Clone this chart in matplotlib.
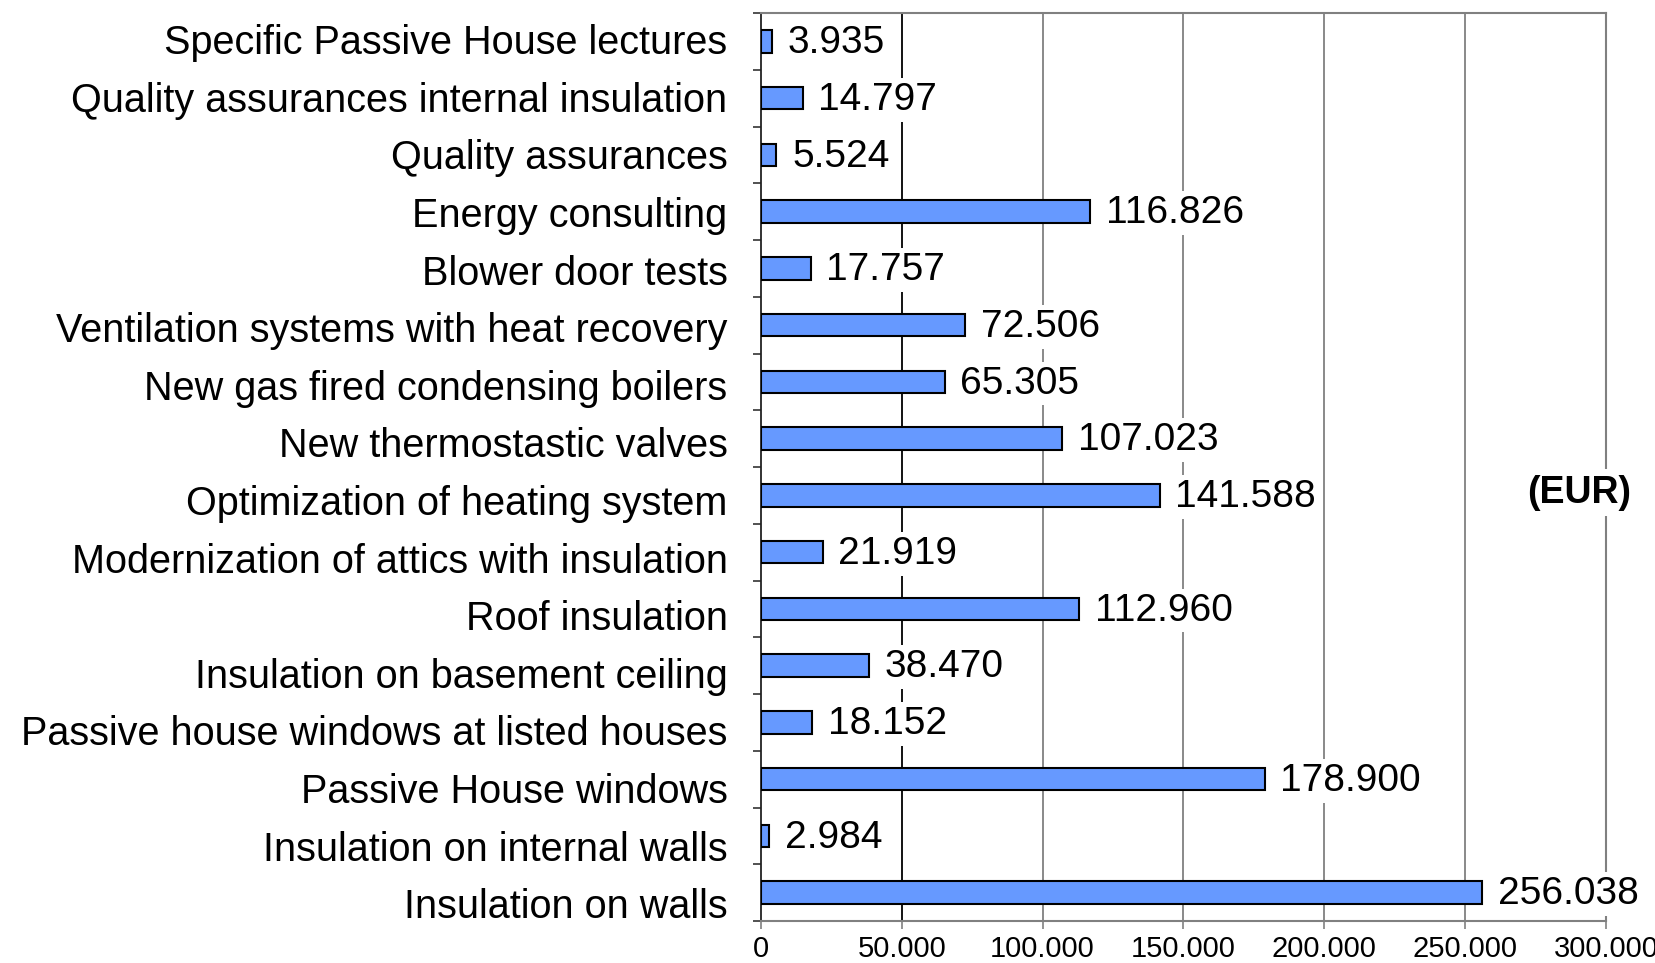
import matplotlib.pyplot as plt
import numpy as np

plt.rcParams['font.family'] = ['Liberation Sans', 'DejaVu Sans']

# data (top to bottom as in the chart)
categories = [
    'Specific Passive House lectures',
    'Quality assurances internal insulation',
    'Quality assurances',
    'Energy consulting',
    'Blower door tests',
    'Ventilation systems with heat recovery',
    'New gas fired condensing boilers',
    'New thermostastic valves',
    'Optimization of heating system',
    'Modernization of attics with insulation',
    'Roof insulation',
    'Insulation on basement ceiling',
    'Passive house windows at listed houses',
    'Passive House windows',
    'Insulation on internal walls',
    'Insulation on walls',
]
values = [3935, 14797, 5524, 116826, 17757, 72506, 65305, 107023,
          141588, 21919, 112960, 38470, 18152, 178900, 2984, 256038]
value_labels = ['3.935', '14.797', '5.524', '116.826', '17.757', '72.506',
                '65.305', '107.023', '141.588', '21.919', '112.960', '38.470',
                '18.152', '178.900', '2.984', '256.038']
xticks = [0, 50000, 100000, 150000, 200000, 250000, 300000]
xtick_labels = ['0', '50.000', '100.000', '150.000', '200.000', '250.000', '300.000']

fig = plt.figure(figsize=(16.56, 9.63), dpi=100)
ax = fig.add_axes([0.4595, 0.0436, 0.9698 - 0.4595, 0.9865 - 0.0436])

n = len(categories)
y = np.arange(n)[::-1]
ax.barh(y, values, height=0.4, color='#6699FF', edgecolor='black', linewidth=1.5, zorder=3)

# value labels sit on white boxes that hide the gridlines
for yi, v, lab in zip(y, values, value_labels):
    ax.text(v + 5500, yi - 0.03, lab, va='center', ha='left', fontsize=28, zorder=4,
            bbox=dict(boxstyle='square,pad=0.1', facecolor='white', edgecolor='none'))

ax.set_xlim(0, 300000)
ax.set_ylim(-0.5, n - 0.5)

# category labels are spaced a little wider than the bars in the original
mid = (n - 1) / 2
ax.set_yticks(mid + (y - mid) * 1.015 - 0.075)
ax.set_yticklabels(categories, fontsize=28.5)
ax.tick_params(axis='y', length=0, pad=24)
ax.set_yticks(np.arange(-0.5, n, 1), minor=True)
ax.tick_params(axis='y', which='minor', length=6, width=1.2, color='#333333', direction='out')

ax.set_xticks(xticks)
ax.set_xticklabels(xtick_labels, fontsize=21, fontfamily=['Liberation Sans Narrow', 'Liberation Sans'])
ax.tick_params(axis='x', length=6, width=1.2, color='#808080', pad=4)

for xt in xticks[1:]:
    ax.axvline(xt, color='black' if xt == 50000 else '#808080', linewidth=1.3, zorder=1)

ax.spines['left'].set_color('#222222')
ax.spines['left'].set_linewidth(1.3)
for s in ['top', 'bottom', 'right']:
    ax.spines[s].set_color('#808080')
    ax.spines[s].set_linewidth(1.5)

ax.text(290500, 7.05, '(EUR)', fontsize=27, fontweight='bold', ha='center', va='center',
        bbox=dict(facecolor='white', edgecolor='none', pad=4), zorder=5, clip_on=False)

fig.savefig('out.png', dpi=100)
